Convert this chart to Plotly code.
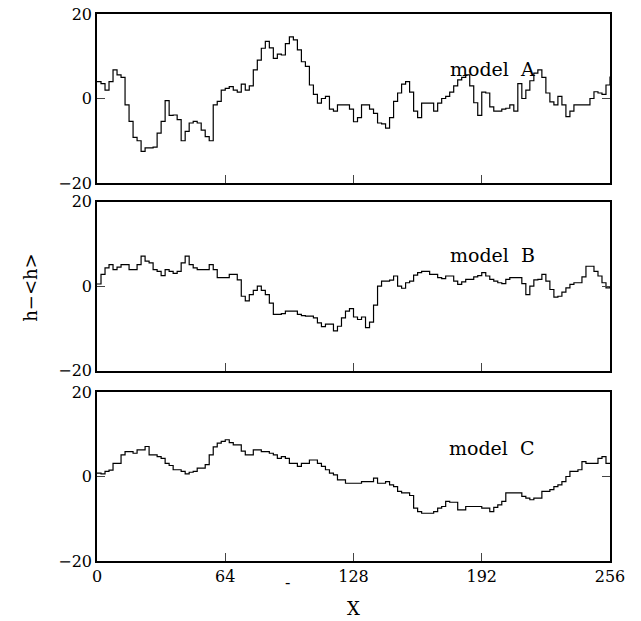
import plotly.graph_objects as go

x_pos = list(range(0, 257, 2))

model_a = [4, 3.5, 2, 4, 6.8, 5.6, 5, -1.5, -5.4, -9.2, -10, -12.5, -11.7, -11.7, -11.5, -8.2,
           -5.4, -0.5, -4, -3.9, -5, -10, -7.8, -5.8, -5.4, -5.8, -7.5, -9, -10, -1.5, -0.7, 2, 2.4,
           2.8, 2, 1.5, 3.4, 2, 3, 6.8, 9.1, 11.9, 13.5, 12, 9.5, 10.5, 10.3, 13, 14.6,
           13.9, 11.5, 8.7, 7.6, 3.2, 1.0, -1.1, 0, 0.5, -2.5, -3, -1.5, -1.5, -1.5, -2.5, -5.5,
           -4.5, -1.5, -1.5, -2.5, -3.5, -5.8, -6, -7, -4.5, -0.7, 1.3, 3.4, 4.0, 1.5, -3, -4.5,
           -1.1, -1.1, -1.1, -3, -1.1, 0, 0.5, 1.5, 3, 4.4, 5, 5.6, 3, -1, -4, 1.5,
           1.3, -2, -3, -3, -2.5, -2.3, -1.5, -3, 3.5, 0, 2, 4.2, 6, 6.8, 5, 1.3,
           -0.8, -1.5, 0.5, -1.5, -4.3, -3, -1.5, -1.5, -1.5, -1.5, 0, 1.6, 1.3, 1, 3.2, 5.2]

model_b = [0.5, 2.8, 4.3, 5.1, 3.9, 4.5, 5.1, 5.1, 3.9, 3.9, 5.1, 7.1, 5.9, 5.5, 3.9, 3.5,
           2.5, 3.9, 3.5, 3, 3.5, 5.5, 7.1, 5.1, 4.3, 3.9, 3.9, 3.9, 5.1, 3.9, 2, 2, 2,
           2.8, 2.8, 1.5, -2.4, -3.5, -2, -1, 0, -1, -2, -4, -6.7, -6.7, -6.5, -5.9, -5.9,
           -5.9, -6.7, -7, -7.1, -7.1, -7.5, -8.7, -9.6, -9, -9, -10.6, -9.5, -7.5, -5.9, -5.3, -7.3,
           -7.9, -7.3, -9.8, -8.5, -4.5, 0, 1.2, 1.2, 1.4, 2.4, 0, -0.5, 0.8, 1.2, 2.6, 3.2,
           3.5, 3.5, 2.8, 2.8, 2, 1.8, 2.4, 2.4, 1.2, 0.4, 1.0, 1.6, 1.6, 2.2, 2.5, 3.2,
           2.4, 1.6, 1.2, 0.8, 0.6, 1.6, 2, 2, 2, 0.6, -2, 0, 1.5, 1.6, 2.8, 1.2,
           -0.8, -2.6, -2.4, -1.4, -0.4, 0.4, 0.8, 0.8, 2.2, 4.7, 4.7, 3.5, 2.4, 0.8, -0.4, 0]

model_c = [0.8, 0.6, 1.2, 1.5, 3.1, 3.1, 5.1, 5.9, 5.9, 5.5, 6.3, 6.3, 7.1, 5.1, 5.1, 4.7,
           4.3, 3.1, 2.6, 1.6, 1.6, 1.2, 0.6, 1.0, 1.2, 2, 2, 2.8, 5.1, 7, 7.9, 8.3, 8.7,
           8, 7.5, 7.5, 6, 5.1, 5.1, 6.3, 6.3, 5.9, 5.9, 5.5, 5.1, 4.3, 4.7, 4.3, 3.1,
           3.1, 2.4, 3.1, 3.1, 3.9, 3.9, 3.1, 2.4, 1.6, 0.8, 0.4, -0.8, -0.8, -1.6, -1.6, -1.6,
           -1.6, -1.2, -1.2, -1.2, -0.4, -1.6, -1.6, -1.2, -2, -2.4, -3.5, -3.9, -3.9, -4.5, -7.5, -8.3,
           -8.7, -8.7, -8.7, -8.3, -7.5, -7.1, -5.9, -6.1, -6.1, -7.9, -7.9, -7.1, -7.1, -7.1, -7.1, -7.5,
           -7.5, -8.3, -7.3, -6.7, -5.9, -3.9, -3.9, -3.9, -3.9, -4.7, -5.1, -5.5, -5.1, -5.1, -3.5, -3.5,
           -3.1, -2.4, -2, -1.2, 0, 1.2, 1.2, 1.6, 3.5, 3.1, 3.1, 3.1, 4.3, 4.7, 3.1, 3.1]

panel_labels = ["model&nbsp;&nbsp;A", "model&nbsp;&nbsp;B", "model&nbsp;&nbsp;C"]
x_ticks = [0, 64, 128, 192, 256]
y_ticks = [-20, 0, 20]
y_tick_text = ["\u221220", "0", "20"]

FONT = "DejaVu Serif"
fig = go.Figure()

series = [model_a, model_b, model_c]
domains = [[0.691, 1.0], [0.348, 0.657], [0.0, 0.309]]
label_y = [0.675, 0.685, 0.67]

for i, (vals, dom, lab) in enumerate(zip(series, domains, panel_labels)):
    n = i + 1
    xa = "x" if n == 1 else f"x{n}"
    ya = "y" if n == 1 else f"y{n}"
    fig.add_trace(go.Scatter(x=x_pos, y=vals, mode="lines", line_shape="hv",
                             line=dict(color="black", width=1.2),
                             xaxis=xa, yaxis=ya, showlegend=False))
    xkey = "xaxis" if n == 1 else f"xaxis{n}"
    ykey = "yaxis" if n == 1 else f"yaxis{n}"
    fig.layout[xkey] = dict(domain=[0, 1], anchor=ya, range=[0, 256],
                            tickvals=x_ticks, ticks="inside", ticklen=8,
                            showticklabels=(n == 3), showline=True, mirror=True,
                            linecolor="black", linewidth=1.5, showgrid=False,
                            zeroline=False, automargin=False,
                            tickfont=dict(family=FONT, size=16, color="black"))
    fig.layout[ykey] = dict(domain=dom, anchor=xa, range=[-20, 20],
                            tickvals=y_ticks, ticktext=y_tick_text, ticks="inside",
                            ticklen=8, showline=True, mirror="ticks",
                            linecolor="black", linewidth=1.5, showgrid=False,
                            zeroline=False, automargin=False,
                            tickfont=dict(family=FONT, size=16, color="black"))
    fig.add_annotation(text=lab, xref=f"{xa} domain", yref=f"{ya} domain",
                       x=0.77, y=label_y[i], xanchor="center", yanchor="middle",
                       showarrow=False,
                       font=dict(family=FONT, size=19, color="black"))

fig.add_annotation(text="X", xref="x3 domain", yref="paper", x=0.5, y=-0.086,
                   xanchor="center", yanchor="middle", showarrow=False,
                   font=dict(family=FONT, size=18, color="black"))
fig.add_annotation(text="h\u2212<h>", xref="paper", yref="paper", x=-0.13, y=0.5,
                   xanchor="center", yanchor="middle",
                   textangle=-90, showarrow=False,
                   font=dict(family=FONT, size=18, color="black"))
fig.add_annotation(text="-", xref="x3", yref="paper", x=95, y=-0.04,
                   xanchor="center", yanchor="middle",
                   showarrow=False, font=dict(family=FONT, size=16, color="black"))

fig.update_layout(width=641, height=621, margin=dict(l=97, r=31, t=14, b=60),
                  paper_bgcolor="white", plot_bgcolor="white")

fig.write_html("out.html")
